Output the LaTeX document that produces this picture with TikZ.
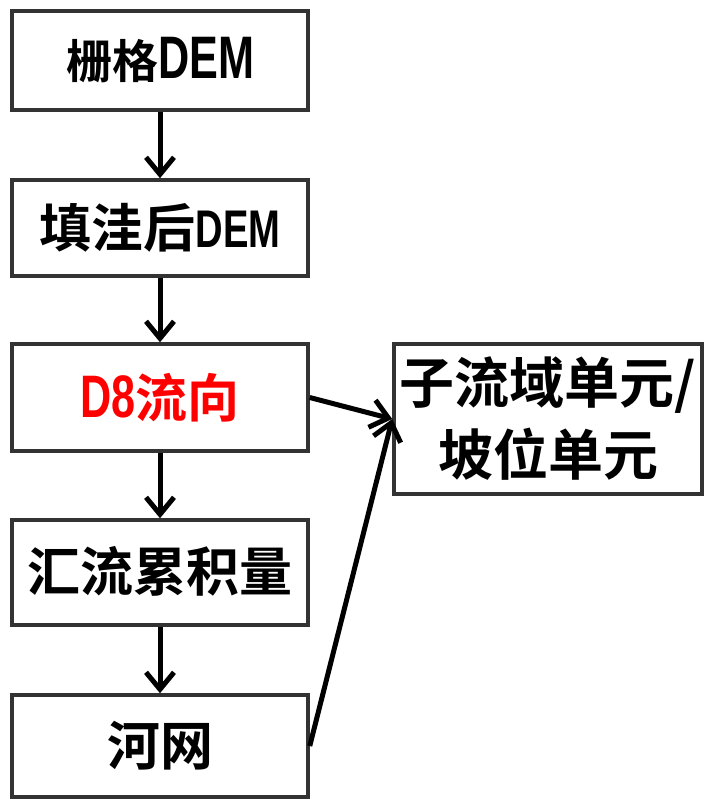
\documentclass[tikz,border=0pt]{standalone}
\usepackage{fontspec}
\setmainfont{Noto Sans CJK SC Bold}
\newfontfamily\lat[FakeStretch=0.72]{Liberation Sans Bold}
\usetikzlibrary{arrows.meta}
\tikzset{
  box/.style={draw=black!80,line width=3.5pt,fill=white,inner sep=0pt,minimum width=296pt},
  flow/.style={draw=black,line width=5pt,-{Straight Barb[length=17pt,width=28pt]}}}
\begin{document}
\begin{tikzpicture}[x=1pt,y=-1pt]
\useasboundingbox (0,0) rectangle (704,800);
\node[box,minimum height=99pt] (b1) at (160,60.5) {\fontsize{46}{50}\selectfont 栅格{\lat\fontsize{60}{60}\selectfont DEM}};
\node[box,minimum height=96pt] (b2) at (160,228) {\fontsize{52}{56}\selectfont 填洼后{\lat\fontsize{53}{53}\selectfont DEM}};
\node[box,minimum height=107pt] (b3) at (160,397.5) {\fontsize{52}{56}\selectfont\color{red}{\lat\fontsize{60}{60}\selectfont D8}流向};
\node[box,minimum height=105pt] (b4) at (160,572.5) {\raisebox{8pt}{\fontsize{53}{56}\selectfont 汇流累积量}};
\node[box,minimum height=102pt] (b5) at (160,746) {\raisebox{4pt}{\fontsize{53}{56}\selectfont 河网}};
\node[box,minimum width=308pt,minimum height=150pt,align=center,font=\fontsize{55}{72}\selectfont] (r) at (548,419) {子流域单元/\\坡位单元};
\draw[flow] (b1) -- (b2);
\draw[flow] (b2) -- (b3);
\draw[flow] (b3) -- (b4);
\draw[flow] (b4) -- (b5);
\draw[flow] (b3.east) -- (r.west);
\draw[flow] (b5.east) -- (r.west);
\end{tikzpicture}
\end{document}
